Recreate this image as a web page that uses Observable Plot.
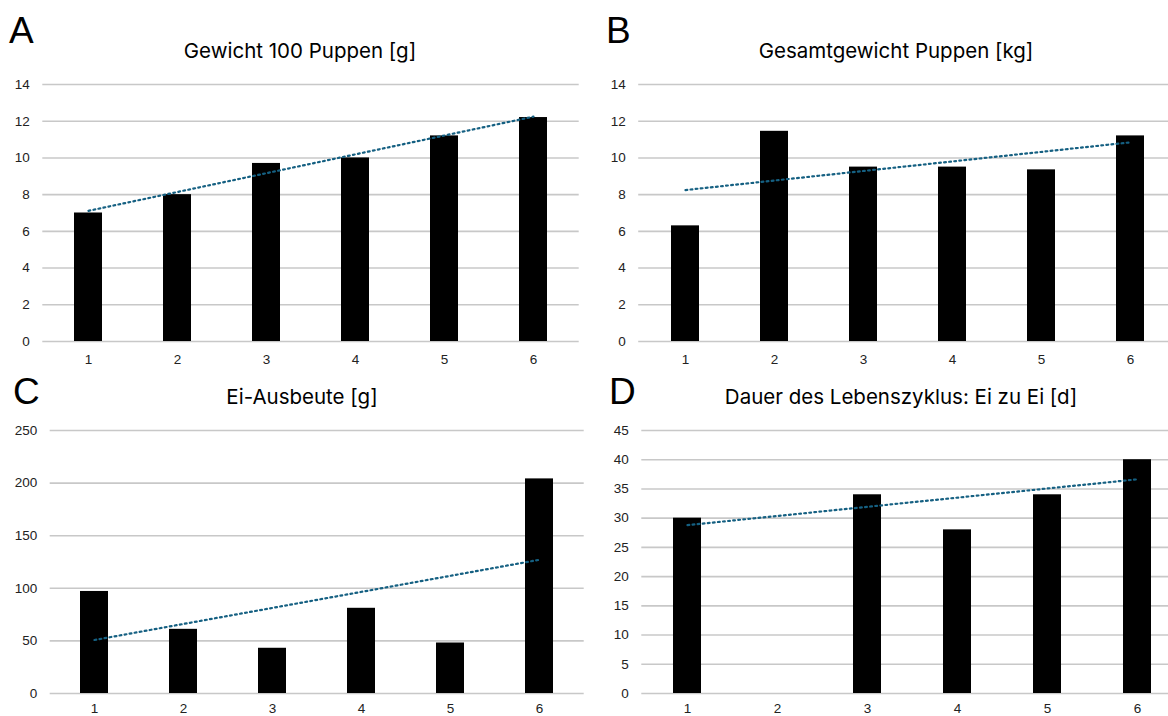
<!DOCTYPE html>
<html>
<head>
<meta charset="utf-8">
<script src="https://cdn.jsdelivr.net/npm/d3@7"></script>
<script src="https://cdn.jsdelivr.net/npm/@observablehq/plot@0.6"></script>
<style>
  html, body { margin: 0; padding: 0; background: #fff; overflow: hidden; }
  #root { position: relative; width: 1168px; height: 716px; overflow: hidden; }
  .panel { position: absolute; }
  .panel svg { max-width: none !important; }
  .letter { position: absolute; font-family: "Liberation Sans", Arial, sans-serif; font-size: 37px; line-height: 1; color: #000; }
  .title { position: absolute; font-family: Inter, "Open Sans", sans-serif; font-size: 20.5px; line-height: 1; color: #000; transform: translateX(-50%); white-space: nowrap; }
</style>
</head>
<body>
<div id="root"></div>
<script>
// ---- data ----
const categories = ["1", "2", "3", "4", "5", "6"];
const gewicht100Puppen = [7.0, 8.0, 9.7, 10.0, 11.2, 12.2];
const gesamtgewichtPuppen = [6.3, 11.45, 9.5, 9.5, 9.35, 11.2];
const eiAusbeute = [97, 61, 43, 81, 48, 204];
const dauerLebenszyklus = [30, null, 34, 28, 34, 40];
const ticksAB = [0, 2, 4, 6, 8, 10, 12, 14];
const ticksC = [0, 50, 100, 150, 200, 250];
const ticksD = [0, 5, 10, 15, 20, 25, 30, 35, 40, 45];
const letters = ["A", "B", "C", "D"];
const titles = [
  "Gewicht 100 Puppen [g]",
  "Gesamtgewicht Puppen [kg]",
  "Ei-Ausbeute [g]",
  "Dauer des Lebenszyklus: Ei zu Ei [d]"
];

// least-squares trend (like an Excel linear trendline) over non-missing values
function trend(values) {
  const pts = values.map((v, i) => [i + 1, v]).filter(d => d[1] != null);
  const mx = d3.mean(pts, d => d[0]), my = d3.mean(pts, d => d[1]);
  const sxy = d3.sum(pts, d => (d[0] - mx) * (d[1] - my));
  const sxx = d3.sum(pts, d => (d[0] - mx) ** 2);
  const b = sxy / sxx, a = my - b * mx;
  const first = 1, last = categories.length;
  return [first, last].map(x => ({cat: categories[x - 1], y: a + b * x}));
}

const root = document.getElementById("root");

function panel({values, ticks, domainMax, left, top, width, height, mL, mR, mT, mB, xPad, letter, letterPos, title, titlePos}) {
  const data = categories.map((c, i) => ({cat: c, v: values[i]}));
  const chart = Plot.plot({
    width, height,
    marginLeft: mL, marginRight: mR, marginTop: mT, marginBottom: mB,
    style: {fontFamily: "'Liberation Sans', Arial, sans-serif", fontSize: "13.5px", color: "#222", background: "transparent", overflow: "visible", maxWidth: "none"},
    x: {domain: categories, paddingInner: 0.687, paddingOuter: 0.3435, label: null},
    y: {domain: [0, domainMax], label: null},
    marks: [
      Plot.ruleY(ticks, {stroke: "#c8c8c8", strokeWidth: 1.6}),
      Plot.barY(data, {x: "cat", y: "v", fill: "#000"}),
      Plot.line(trend(values), {x: "cat", y: "y", stroke: "#156082", strokeWidth: 2.2, strokeDasharray: "1.8,3.3"}),
      Plot.axisY({ticks, tickSize: 0, tickPadding: 13, label: null}),
      Plot.axisX({tickSize: 0, tickPadding: xPad, label: null})
    ]
  });
  const wrap = document.createElement("div");
  wrap.className = "panel";
  wrap.style.left = left + "px";
  wrap.style.top = top + "px";
  wrap.style.width = width + "px";
  wrap.style.height = height + "px";
  wrap.appendChild(chart);
  root.appendChild(wrap);

  const L = document.createElement("div");
  L.className = "letter";
  L.textContent = letter;
  L.style.left = letterPos[0] + "px";
  L.style.top = letterPos[1] + "px";
  root.appendChild(L);

  const T = document.createElement("div");
  T.className = "title";
  T.textContent = title;
  T.style.left = titlePos[0] + "px";
  T.style.top = titlePos[1] + "px";
  root.appendChild(T);
}

panel({values: gewicht100Puppen, ticks: ticksAB, domainMax: 14,
  left: 0, top: 0, width: 584, height: 370, mL: 42.3, mR: 5.3, mT: 84, mB: 29, xPad: 13,
  letter: letters[0], letterPos: [9, 12], title: titles[0], titlePos: [300, 41]});

panel({values: gesamtgewichtPuppen, ticks: ticksAB, domainMax: 14,
  left: 584, top: 0, width: 600, height: 370, mL: 54.2, mR: 8.2, mT: 84, mB: 29, xPad: 13,
  letter: letters[1], letterPos: [606, 12], title: titles[1], titlePos: [896, 41]});

panel({values: eiAusbeute, ticks: ticksC, domainMax: 250,
  left: 0, top: 370, width: 584, height: 346, mL: 49.7, mR: 0.3, mT: 60, mB: 23, xPad: 10,
  letter: letters[2], letterPos: [13, 373], title: titles[2], titlePos: [302, 387]});

panel({values: dauerLebenszyklus, ticks: ticksD, domainMax: 45,
  left: 584, top: 370, width: 610, height: 346, mL: 57.3, mR: 11, mT: 60, mB: 23, xPad: 10,
  letter: letters[3], letterPos: [609, 373], title: titles[3], titlePos: [901, 387]});
</script>
</body>
</html>
